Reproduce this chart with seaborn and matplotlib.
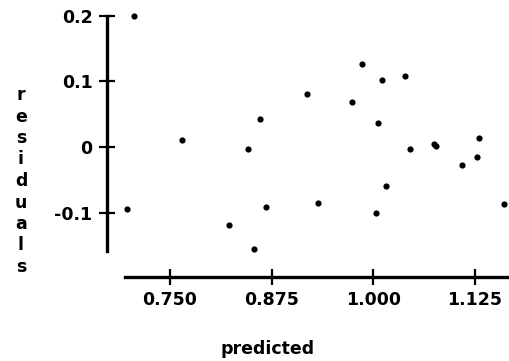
import matplotlib
matplotlib.use("Agg")
import matplotlib.pyplot as plt
import seaborn as sns
import pandas as pd

# values
predicted = [0.706, 0.697, 0.765, 0.846, 0.861, 0.822, 0.853, 0.868,
             0.918, 0.932, 0.974, 0.986, 1.006, 1.011, 1.003, 1.015,
             1.039, 1.045, 1.074, 1.077, 1.109, 1.130, 1.128, 1.161]
residuals = [0.200, -0.094, 0.010, -0.003, 0.042, -0.119, -0.155, -0.092,
             0.081, -0.085, 0.069, 0.127, 0.036, 0.102, -0.100, -0.060,
             0.109, -0.003, 0.005, 0.002, -0.028, 0.014, -0.016, -0.087]

x_ticks = [0.750, 0.875, 1.000, 1.125]
x_tick_labels = ["0.750", "0.875", "1.000", "1.125"]
y_ticks = [-0.1, 0, 0.1, 0.2]
y_tick_labels = ["-0.1", "0", "0.1", "0.2"]

df = pd.DataFrame({"predicted": predicted, "residuals": residuals})

sns.set_style("ticks")
plt.rcParams["font.family"] = ["DejaVu Sans"]
plt.rcParams["font.weight"] = "bold"
plt.rcParams["text.color"] = "black"

fig = plt.figure(figsize=(5.1, 3.61), dpi=100)
ax = fig.add_axes([0.2098, 0.2335, 0.7902, 0.7222])

sns.scatterplot(data=df, x="predicted", y="residuals", ax=ax, color="black",
                s=20, marker="o", edgecolor="black", linewidth=0, clip_on=False)

ax.set_xlim(0.6725, 1.168)
ax.set_ylim(-0.198, 0.2)

ax.spines["top"].set_visible(False)
ax.spines["right"].set_visible(False)
for side in ["left", "bottom"]:
    ax.spines[side].set_linewidth(2.4)
    ax.spines[side].set_color("black")
ax.spines["left"].set_bounds(-0.159, 0.2)
ax.spines["bottom"].set_bounds(0.6947, 1.168)

ax.set_xticks(x_ticks)
ax.set_xticklabels(x_tick_labels)
ax.set_yticks(y_ticks)
ax.set_yticklabels(y_tick_labels)
ax.tick_params(axis="both", direction="inout", length=11, width=1.6,
               color="black", labelsize=12.5, labelcolor="black")
ax.tick_params(axis="x", pad=5)
ax.tick_params(axis="y", pad=5)
for lab in ax.get_xticklabels() + ax.get_yticklabels():
    lab.set_fontweight("bold")

ax.set_xlabel("")
ax.set_ylabel("")
fig.text(268 / 510, 1 - 349 / 361, "predicted", ha="center", va="center",
         fontsize=12.5, fontweight="bold", color="black")
fig.text(21 / 510, 1 - 181 / 361, "\n".join("residuals"), ha="center",
         va="center", fontsize=12.5, fontweight="bold", linespacing=1.25,
         color="black")

fig.savefig("out.png", dpi=100)
